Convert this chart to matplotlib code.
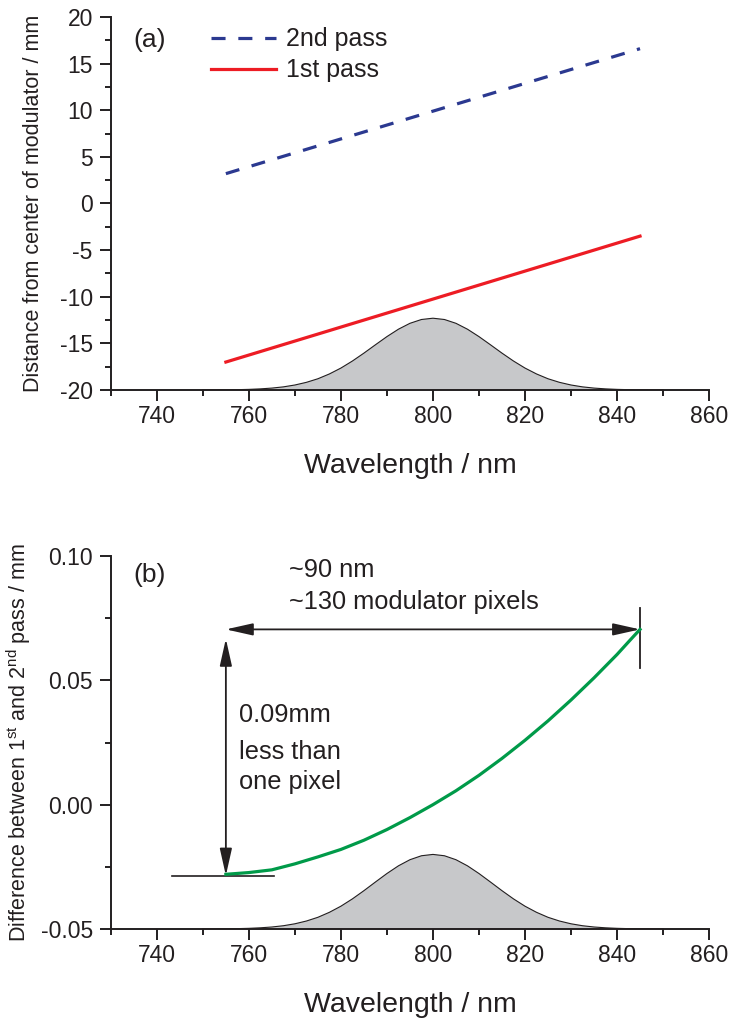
import matplotlib
matplotlib.use('Agg')
import matplotlib.pyplot as plt
from matplotlib.ticker import MultipleLocator, FixedLocator, FormatStrFormatter

plt.rcParams['font.family'] = ['Liberation Sans', 'DejaVu Sans']
plt.rcParams['mathtext.fontset'] = 'custom'
plt.rcParams['mathtext.rm'] = 'Liberation Sans'
plt.rcParams['mathtext.it'] = 'Liberation Sans:italic'
plt.rcParams['axes.unicode_minus'] = False

# ---------------- data ----------------
line_wl = [755, 845]
first_pass = [-17.0, -3.5]
second_pass = [3.2, 16.6]

spec_wl = [750, 752.5, 755, 757.5, 760, 762.5, 765, 767.5, 770, 772.5,
           775, 777.5, 780, 782.5, 785, 787.5, 790, 792.5, 795, 797.5,
           800, 802.5, 805, 807.5, 810, 812.5, 815, 817.5, 820, 822.5,
           825, 827.5, 830, 832.5, 835, 837.5, 840, 842.5, 845, 847.5, 850]
spec_rel = [0.001, 0.001, 0.003, 0.005, 0.009, 0.016, 0.027, 0.044, 0.070, 0.107,
            0.157, 0.224, 0.306, 0.404, 0.514, 0.630, 0.744, 0.847, 0.929, 0.982,
            1.000, 0.982, 0.929, 0.847, 0.744, 0.630, 0.514, 0.404, 0.306, 0.224,
            0.157, 0.107, 0.070, 0.044, 0.027, 0.016, 0.009, 0.005, 0.003, 0.001, 0.001]

diff_wl = [755, 760, 765, 770, 775, 780, 785, 790, 795, 800,
           805, 810, 815, 820, 825, 830, 835, 840, 843, 845]
diff_mm = [-0.0280, -0.0273, -0.0262, -0.0238, -0.0210, -0.0180, -0.0143, -0.0100, -0.0052, 0.0000,
           0.0056, 0.0118, 0.0186, 0.0259, 0.0337, 0.0421, 0.0510, 0.0604, 0.0665, 0.0705]

# annotation geometry (data units)
span_wl = [755, 845]
span_top = 0.0705
span_bottom = -0.0285
vert_tip = 0.0667
base_line_wl = [743.3, 765.5]
end_tick_mm = [0.055, 0.079]

xticks_major = [740, 760, 780, 800, 820, 840, 860]

TXT = '#231F20'
BLUE = '#2B3990'
RED = '#ED1C24'
GREEN = '#009A49'
GRAY = '#C7C8CA'

fig = plt.figure(figsize=(7.34, 10.28), dpi=100)
L, R = 0.151, 0.966
ax1 = fig.add_axes([L, 0.6206, R - L, 0.9835 - 0.6206])
ax2 = fig.add_axes([L, 0.0963, R - L, 0.4591 - 0.0963])


def style(ax):
    for s in ['top', 'right']:
        ax.spines[s].set_visible(False)
    for s in ['left', 'bottom']:
        ax.spines[s].set_linewidth(1.4)
        ax.spines[s].set_color(TXT)
    ax.set_xlim(730, 860)
    ax.xaxis.set_major_locator(FixedLocator(xticks_major))
    ax.xaxis.set_minor_locator(MultipleLocator(10))
    ax.tick_params(which='major', direction='out', length=8, width=1.4,
                   labelsize=16.5, colors=TXT)
    ax.tick_params(which='minor', direction='out', length=4.5, width=1.4, colors=TXT)
    ax.tick_params(axis='x', which='major', pad=3)
    ax.tick_params(axis='y', which='major', pad=5)
    ax.set_xlabel('Wavelength / nm', fontsize=20.5, color=TXT)
    ax.xaxis.set_label_coords(0.5, -0.169)


# ---------------- panel (a) ----------------
style(ax1)
ax1.set_ylim(-20, 20)
ax1.yaxis.set_major_locator(MultipleLocator(5))
ax1.yaxis.set_minor_locator(MultipleLocator(2.5))
base_a, amp_a = -20, 7.7
ax1.fill_between(spec_wl, base_a, [base_a + amp_a * v for v in spec_rel],
                 facecolor=GRAY, edgecolor='none', zorder=1)
ax1.plot(spec_wl, [base_a + amp_a * v for v in spec_rel], color='#231F20', lw=0.8, zorder=2)
ax1.plot(line_wl, second_pass, color=BLUE, lw=2.3, linestyle=(0, (4.4, 4.0)),
         label='2nd pass', zorder=3)
ax1.plot(line_wl, first_pass, color=RED, lw=2.3, label='1st pass', zorder=3)
ax1.legend(loc='upper left', bbox_to_anchor=(0.167, 0.972), frameon=False,
           fontsize=18, handlelength=2.6, handletextpad=0.4, labelspacing=0.28,
           borderpad=0, borderaxespad=0, labelcolor=TXT)
ax1.text(0.037, 0.938, '(a)', transform=ax1.transAxes, fontsize=19, color=TXT,
         ha='left', va='center')
ax1.set_ylabel('Distance from center of modulator / mm', fontsize=15.5, color=TXT)
ax1.yaxis.set_label_coords(-0.112, 0.5)

# ---------------- panel (b) ----------------
style(ax2)
ax2.set_ylim(-0.05, 0.10)
ax2.yaxis.set_major_locator(MultipleLocator(0.05))
ax2.yaxis.set_minor_locator(MultipleLocator(0.025))
ax2.yaxis.set_major_formatter(FormatStrFormatter('%.2f'))
base_b, amp_b = -0.05, 0.030
ax2.fill_between(spec_wl, base_b, [base_b + amp_b * v for v in spec_rel],
                 facecolor=GRAY, edgecolor='none', zorder=1)
ax2.plot(spec_wl, [base_b + amp_b * v for v in spec_rel], color='#231F20', lw=0.8, zorder=2)
ax2.plot(diff_wl, diff_mm, color=GREEN, lw=2.3, zorder=4)

arrow_kw = dict(arrowstyle='<|-|>,head_length=1.65,head_width=0.37', mutation_scale=10,
                color=TXT, lw=1.3, shrinkA=0, shrinkB=0)
ax2.annotate('', xy=(span_wl[1], span_top), xytext=(span_wl[0], span_top),
             arrowprops=arrow_kw, zorder=3)
ax2.annotate('', xy=(span_wl[0], vert_tip), xytext=(span_wl[0], span_bottom),
             arrowprops=arrow_kw, zorder=3)
ax2.plot(base_line_wl, [span_bottom, span_bottom], color=TXT, lw=1.2, zorder=3)
ax2.plot([span_wl[1], span_wl[1]], end_tick_mm, color=TXT, lw=1.3, zorder=3)

ax2.text(0.037, 0.95, '(b)', transform=ax2.transAxes, fontsize=19, color=TXT,
         ha='left', va='center')
ax2.text(768.7, 0.0944, '~90 nm', fontsize=18.3, color=TXT, ha='left', va='center')
ax2.text(768.7, 0.0815, '~130 modulator pixels', fontsize=18.3, color=TXT, ha='left', va='center')
ax2.text(757.8, 0.0361, '0.09mm', fontsize=18.3, color=TXT, ha='left', va='center')
ax2.text(757.8, 0.0212, 'less than', fontsize=18.3, color=TXT, ha='left', va='center')
ax2.text(757.8, 0.0091, 'one pixel', fontsize=18.3, color=TXT, ha='left', va='center')

ax2.set_ylabel(r'Difference between 1$^{\mathrm{st}}$ and 2$^{\mathrm{nd}}$ pass / mm',
               fontsize=15.5, color=TXT)
ax2.yaxis.set_label_coords(-0.130, 0.5)

fig.savefig('out.png', dpi=100)
